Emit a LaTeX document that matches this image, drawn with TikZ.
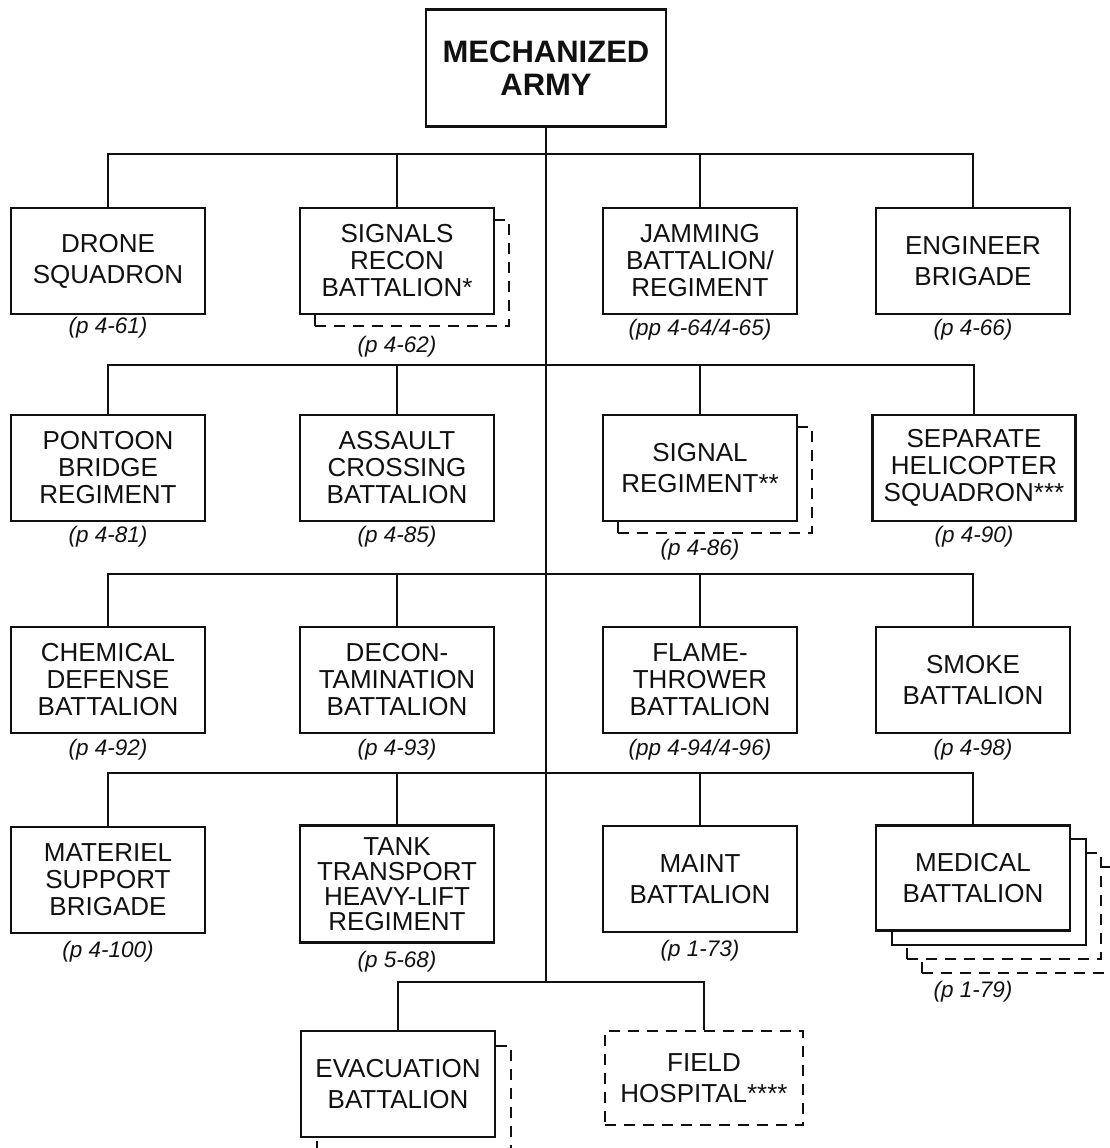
\documentclass[tikz,border=0pt]{standalone}
\usepackage{fontspec}
\setmainfont{Liberation Sans}
\usepackage{tikz}
\usetikzlibrary{positioning}
\definecolor{ink}{HTML}{111111}
\newcommand{\boxfont}{\fontsize{26}{27}\selectfont}
\newcommand{\headfont}{\fontsize{31}{33}\selectfont\bfseries}
\newcommand{\reffont}{\fontsize{22.5}{24}\selectfont\itshape}

\begin{document}
\begin{tikzpicture}[x=1pt,y=-1pt,
    unit/.style={draw=ink,line width=2.6pt,fill=white,align=center,inner sep=0pt,
      minimum width=194pt,minimum height=106pt,font=\boxfont,text=ink},
    ghost/.style={unit,line width=1.1pt,dash pattern=on 11pt off 8pt},
    pref/.style={font=\reffont,text=ink},
    link/.style={draw=ink,line width=2pt}]
    \useasboundingbox (0,0) rectangle (1109,1148);
    % command
    \node[unit,font=\headfont,minimum width=240pt,minimum height=117pt] (army) at (546,68) {MECHANIZED\\ARMY};
    % first row
    \node[unit] (drone) at (108,261) {DRONE\\[4pt]SQUADRON};
    \node[ghost] at (412,273) {};
    \node[unit] (recon) at (397,261) {SIGNALS\\RECON\\BATTALION*};
    \node[unit] (jamming) at (700,261) {JAMMING\\BATTALION/\\REGIMENT};
    \node[unit] (engineer) at (973,261) {ENGINEER\\[4pt]BRIGADE};
    % second row
    \node[unit] (pontoon) at (108,468) {PONTOON\\BRIDGE\\REGIMENT};
    \node[unit] (assault) at (397,468) {ASSAULT\\CROSSING\\BATTALION};
    \node[ghost] at (715,480) {};
    \node[unit] (signal) at (700,468) {SIGNAL\\[4pt]REGIMENT**};
    \node[unit,minimum width=203pt] (heli) at (974,468) {SEPARATE\\HELICOPTER\\SQUADRON***};
    % third row
    \node[unit] (chemical) at (108,680) {CHEMICAL\\DEFENSE\\BATTALION};
    \node[unit] (decon) at (397,680) {DECON-\\TAMINATION\\BATTALION};
    \node[unit] (flame) at (700,680) {FLAME-\\THROWER\\BATTALION};
    \node[unit] (smoke) at (973,680) {SMOKE\\[4pt]BATTALION};
    % fourth row
    \node[unit] (materiel) at (108,880) {MATERIEL\\SUPPORT\\BRIGADE};
    \node[unit,minimum height=117pt,font=\fontsize{26}{25}\selectfont] (tank) at (397,884) {TANK\\TRANSPORT\\HEAVY-LIFT\\REGIMENT};
    \node[unit] (maint) at (700,879) {MAINT\\[4pt]BATTALION};
    \node[ghost] at (1019,920) {};
    \node[ghost] at (1004,906) {};
    \node[unit] at (989,892) {};
    \node[unit,minimum height=105pt] (medical) at (973,878) {MEDICAL\\[4pt]BATTALION};
    % fifth row
    \node[ghost] at (414,1099) {};
    \node[unit] (evac) at (398,1084) {EVACUATION\\[4pt]BATTALION};
    \node[ghost,minimum width=198pt,minimum height=94pt,text=ink] (field) at (704,1078) {FIELD\\[4pt]HOSPITAL****};
    % page references
    \node[pref] (drone-p) at (108,328) {(p 4-61)};
    \node[pref] (recon-p) at (397,347) {(p 4-62)};
    \node[pref] (jamming-p) at (700,330) {(pp 4-64/4-65)};
    \node[pref] (engineer-p) at (973,330) {(p 4-66)};
    \node[pref] (pontoon-p) at (108,537) {(p 4-81)};
    \node[pref] (assault-p) at (397,537) {(p 4-85)};
    \node[pref] (signal-p) at (700,550) {(p 4-86)};
    \node[pref] (heli-p) at (974,537) {(p 4-90)};
    \node[pref] (chemical-p) at (108,750) {(p 4-92)};
    \node[pref] (decon-p) at (397,750) {(p 4-93)};
    \node[pref] (flame-p) at (700,750) {(pp 4-94/4-96)};
    \node[pref] (smoke-p) at (973,750) {(p 4-98)};
    \node[pref] (materiel-p) at (108,952) {(p 4-100)};
    \node[pref] (tank-p) at (397,962) {(p 5-68)};
    \node[pref] (maint-p) at (700,951) {(p 1-73)};
    \node[pref] (medical-p) at (973,992) {(p 1-79)};
    % connectors
    \coordinate (bus1) at (546,154);
    \coordinate (bus2) at (546,365);
    \coordinate (bus3) at (546,574);
    \coordinate (bus4) at (546,773);
    \coordinate (bus5) at (546,982);
    \draw[link] (army.south) -- (bus5);
    \draw[link] (drone.north) |- (bus1) -| (engineer.north);
    \draw[link] (recon.north) |- (bus1);
    \draw[link] (jamming.north) |- (bus1);
    \draw[link] (pontoon.north) |- (bus2) -| (heli.north);
    \draw[link] (assault.north) |- (bus2);
    \draw[link] (signal.north) |- (bus2);
    \draw[link] (chemical.north) |- (bus3) -| (smoke.north);
    \draw[link] (decon.north) |- (bus3);
    \draw[link] (flame.north) |- (bus3);
    \draw[link] (materiel.north) |- (bus4) -| (medical.north);
    \draw[link] (tank.north) |- (bus4);
    \draw[link] (maint.north) |- (bus4);
    \draw[link] (evac.north) |- (bus5) -| (field.north);
  \end{tikzpicture}
\end{document}
